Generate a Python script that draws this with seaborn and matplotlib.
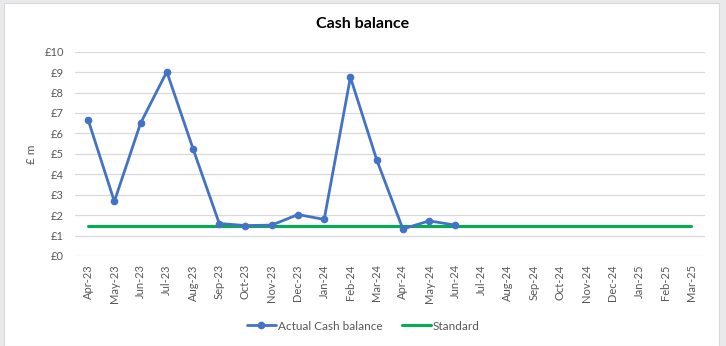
import matplotlib
matplotlib.use("Agg")
import matplotlib.pyplot as plt
from matplotlib.patches import Rectangle
import numpy as np
import pandas as pd
import seaborn as sns

months = ["Apr-23", "May-23", "Jun-23", "Jul-23", "Aug-23", "Sep-23", "Oct-23",
          "Nov-23", "Dec-23", "Jan-24", "Feb-24", "Mar-24", "Apr-24", "May-24",
          "Jun-24", "Jul-24", "Aug-24", "Sep-24", "Oct-24", "Nov-24", "Dec-24",
          "Jan-25", "Feb-25", "Mar-25"]
actual = [6.67, 2.67, 6.50, 9.02, 5.25, 1.59, 1.49, 1.51, 2.03, 1.79,
          8.75, 4.72, 1.32, 1.72, 1.51]
standard_level = 1.45
y_ticks = list(range(0, 11))
y_tick_labels = [f"£{v}" for v in y_ticks]

sns.set_theme(style="white")
plt.rcParams["font.family"] = ["Lato", "DejaVu Sans"]

df = pd.DataFrame({
    "month": months,
    "actual": actual + [np.nan] * (len(months) - len(actual)),
    "standard": [standard_level] * len(months),
})

fig = plt.figure(figsize=(7.26, 3.46), dpi=100)
fig.patch.set_facecolor("#e9e9eb")
fig.patches.append(Rectangle((4 / 726, 0), 715 / 726, 1 - 3 / 346,
                             transform=fig.transFigure, facecolor="white",
                             edgecolor="#d9d9d9", linewidth=0.8, zorder=-10))

ax = fig.add_axes([75 / 726, 1 - 256 / 346, (704.5 - 75) / 726, (256 - 51.7) / 346])
ax.set_facecolor("none")

blue = "#4472C4"
green = "#00B050"
label_col = "#595959"

sns.lineplot(data=df, x="month", y="standard", ax=ax, color=green,
             linewidth=2.2, sort=False, label="Standard", zorder=3)
sns.lineplot(data=df.dropna(), x="month", y="actual", ax=ax, color=blue,
             linewidth=2.0, marker="o", markersize=5.5, markeredgewidth=0,
             sort=False, label="Actual Cash balance", zorder=4)

ax.set_xlim(-0.5, len(months) - 0.5)
ax.set_ylim(0, 10)
ax.set_yticks(y_ticks)
ax.set_yticklabels(y_tick_labels)
ax.set_xticks(range(len(months)))
ax.set_xticklabels(months, rotation=90)
ax.tick_params(axis="both", length=0, labelsize=8, labelcolor=label_col)
ax.tick_params(axis="y", pad=8)
ax.tick_params(axis="x", pad=6)
ax.grid(axis="y", color="#d9d9d9", linewidth=0.9)
ax.set_axisbelow(True)
for s in ax.spines.values():
    s.set_visible(False)

ax.set_xlabel("")
ax.set_ylabel("£ m", fontsize=8.5, color=label_col)
ax.yaxis.set_label_coords((37 - 75) / 629.5, 0.5)

fig.text(363 / 726, 1 - 24 / 346, "Cash balance", ha="center", va="center",
         fontsize=11.5, fontweight="bold", color="black")

handles, labels = ax.get_legend_handles_labels()
order = [labels.index("Actual Cash balance"), labels.index("Standard")]
ax.legend_.remove()
fig.legend([handles[i] for i in order], [labels[i] for i in order],
           loc="center", bbox_to_anchor=(363.5 / 726, 1 - 326 / 346),
           ncol=2, frameon=False, fontsize=8.5, labelcolor=label_col,
           handlelength=2.45, handletextpad=0.2, columnspacing=1.6)

fig.savefig("out.png", dpi=100, facecolor=fig.get_facecolor())
